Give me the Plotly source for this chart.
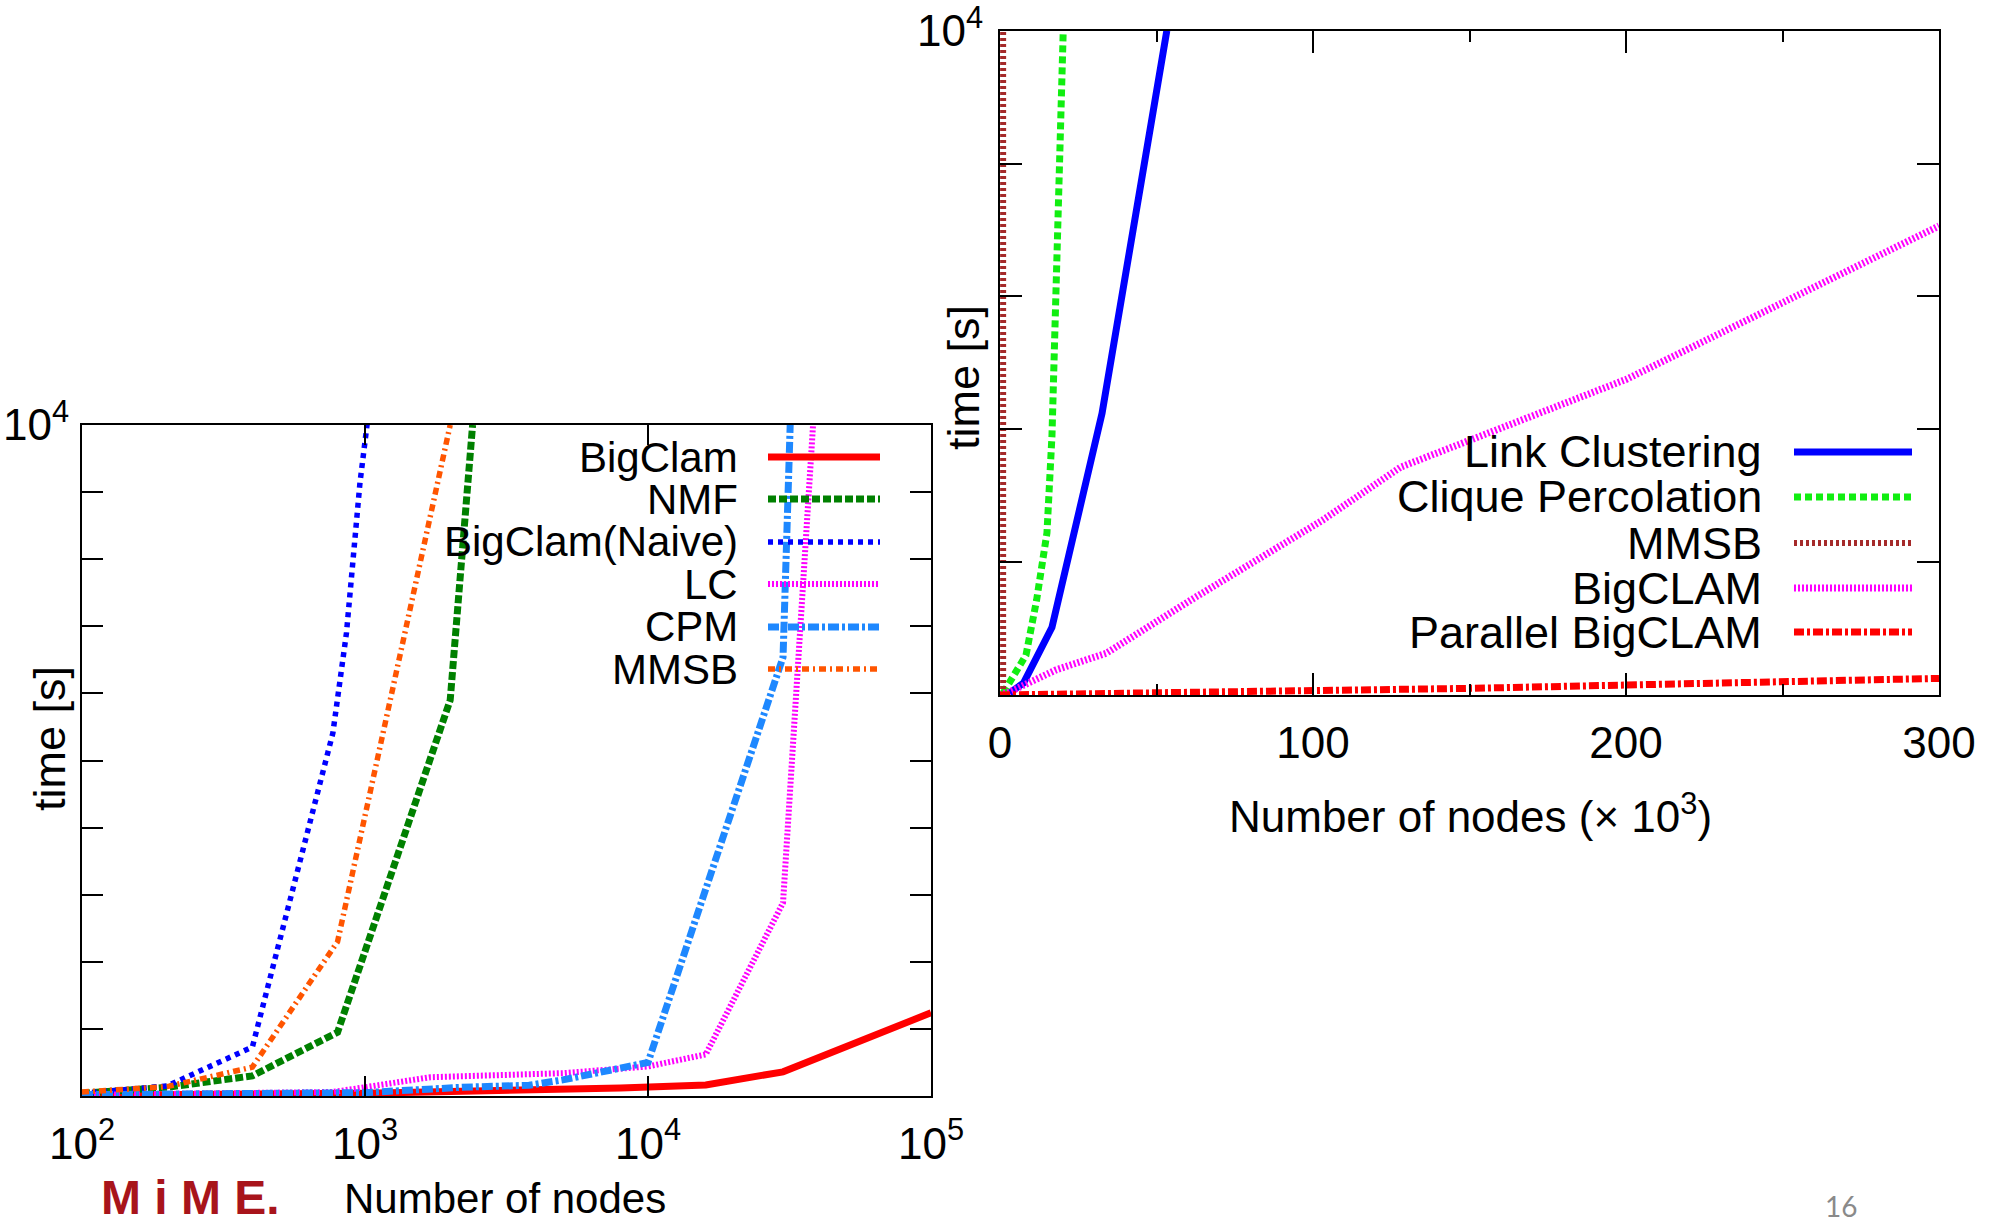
import plotly.graph_objects as go

W, H = 2007, 1223

# ---------------- Left chart data (log x, time in s) ----------------
L_bigclam_x = [100, 1000, 8000, 16000, 30000, 100000]
L_bigclam_t = [10, 40, 120, 165, 360, 1240]

L_nmf_x = [100, 200, 400, 800, 2000, 2400]
L_nmf_t = [40, 130, 300, 950, 5900, 10000]

L_naive_x = [100, 200, 400, 770, 860, 960, 1020]
L_naive_t = [40, 150, 730, 5410, 6900, 9140, 10050]

L_lc_x = [100, 770, 1000, 1700, 5000, 10000, 16000, 30000, 38300]
L_lc_t = [15, 60, 130, 280, 340, 440, 620, 2880, 10000]

L_cpm_x = [100, 1000, 2200, 3800, 5000, 10000, 30000, 31800]
L_cpm_t = [20, 50, 130, 160, 240, 500, 6540, 10000]

L_mmsb_x = [100, 200, 400, 800, 2000]
L_mmsb_t = [60, 140, 430, 2300, 10000]

L_xticks = [100, 1000, 10000, 100000]
L_xticktext = ["10<sup>2</sup>", "10<sup>3</sup>", "10<sup>4</sup>", "10<sup>5</sup>"]
L_yticks = list(range(0, 10001, 1000))
L_yticktext = [""] * 10 + ["10<sup>4</sup>"]

L_names = ["BigClam", "NMF", "BigClam(Naive)", "LC", "CPM", "MMSB"]

# ---------------- Right chart data (x in thousands of nodes) ----------------
R_lc_x = [3, 7.5, 16.6, 32.6, 53.3]
R_lc_t = [30, 180, 1020, 4240, 10000]

R_cp_x = [1, 8.3, 11.7, 15, 16.6, 20.2]
R_cp_t = [30, 600, 1430, 2440, 3900, 10000]

R_mmsb_x = [1, 1]
R_mmsb_t = [0, 10000]

R_bigclam_x = [0, 3, 18, 34, 61, 82, 103, 128, 200, 300]
R_bigclam_t = [0, 45, 380, 630, 1430, 2030, 2630, 3430, 4750, 7060]

R_par_x = [0, 50, 100, 150, 200, 300]
R_par_t = [0, 30, 70, 100, 150, 250]

R_xticks = [0, 100, 200, 300]
R_xminor = [50, 150, 250]
R_yticks = list(range(0, 10001, 2000))
R_yticktext = [""] * 5 + ["10<sup>4</sup>"]

R_names = ["Link Clustering", "Clique Percolation", "MMSB", "BigCLAM", "Parallel BigCLAM"]

# ---------------- styles ----------------
FONT = "Liberation Sans, Arial, Helvetica, sans-serif"
L_styles = [
    dict(color="#FF0000", width=7, dash="solid"),
    dict(color="#008000", width=7, dash="8px,3px"),
    dict(color="#0000FF", width=5.5, dash="5px,5px"),
    dict(color="#FF00FF", width=6, dash="2px,2px"),
    dict(color="#1E88FF", width=7, dash="11px,3px,3px,3px"),
    dict(color="#FF5500", width=5.5, dash="7px,4px,2px,4px"),
]
R_styles = [
    dict(color="#0000FF", width=7, dash="solid"),
    dict(color="#11EE11", width=7, dash="7px,4px"),
    dict(color="#A52A2A", width=6, dash="3px,3px"),
    dict(color="#FF00FF", width=7, dash="2px,2px"),
    dict(color="#FF0000", width=7, dash="10px,3px,3px,3px"),
]

fig = go.Figure()

L_series = [(L_bigclam_x, L_bigclam_t), (L_nmf_x, L_nmf_t), (L_naive_x, L_naive_t),
            (L_lc_x, L_lc_t), (L_cpm_x, L_cpm_t), (L_mmsb_x, L_mmsb_t)]
for (x, y), st, nm in zip(L_series, L_styles, L_names):
    fig.add_trace(go.Scatter(x=x, y=y, mode="lines", name=nm, line=st,
                             xaxis="x", yaxis="y", showlegend=False, hoverinfo="skip"))

R_series = [(R_lc_x, R_lc_t), (R_cp_x, R_cp_t), (R_mmsb_x, R_mmsb_t),
            (R_bigclam_x, R_bigclam_t), (R_par_x, R_par_t)]
for (x, y), st, nm in zip(R_series, R_styles, R_names):
    fig.add_trace(go.Scatter(x=x, y=y, mode="lines", name=nm, line=st,
                             xaxis="x2", yaxis="y2", showlegend=False, hoverinfo="skip"))

def px(x):
    return x / W

def py(y):
    return 1 - y / H

axis_common = dict(showline=True, linecolor="black", linewidth=2, mirror="ticks",
                   ticks="inside", tickcolor="black", tickwidth=2, showgrid=False,
                   zeroline=False, automargin=False, ticklabeloverflow="allow",
                   tickfont=dict(family=FONT, size=44, color="black"))

fig.update_layout(
    width=W, height=H, margin=dict(l=0, r=0, t=0, b=0, pad=0),
    paper_bgcolor="white", plot_bgcolor="white",
    xaxis=dict(domain=[px(82), px(931)], type="log", range=[2, 5], anchor="y",
               tickmode="array", tickvals=L_xticks, ticktext=L_xticktext, ticklen=20,
               ticklabelstandoff=8, **axis_common),
    yaxis=dict(domain=[py(1096), py(425)], range=[0, 10000], anchor="x",
               tickmode="array", tickvals=L_yticks, ticktext=L_yticktext, ticklen=21,
               ticklabelstandoff=2, **axis_common),
    xaxis2=dict(domain=[px(1000), px(1939)], range=[0, 300], anchor="y2",
                tickmode="array", tickvals=R_xticks, ticklen=22, ticklabelstandoff=8,
                minor=dict(tickmode="array", tickvals=R_xminor, ticklen=11, ticks="inside",
                           tickcolor="black", tickwidth=2),
                **axis_common),
    yaxis2=dict(domain=[py(695), py(30.7)], range=[0, 10000], anchor="x2",
                tickmode="array", tickvals=R_yticks, ticktext=R_yticktext, ticklen=22,
                ticklabelstandoff=6, **axis_common),
)

ann = []
shapes = []

def text(x, y, s, size, xanchor="center", angle=0, color="black", family=FONT):
    ann.append(dict(x=px(x), y=py(y), xref="paper", yref="paper", text=s, showarrow=False,
                    xanchor=xanchor, yanchor="middle", textangle=angle,
                    font=dict(family=family, size=size, color=color)))

# axis titles
text(49, 739, "time [s]", 45, angle=-90)
text(505, 1198, "Number of nodes", 42)
text(963, 378, "time [s]", 45, angle=-90)
text(1470, 813, "Number of nodes (× 10<sup>3</sup>)", 44)

# left legend
L_leg_y = [457, 499, 542, 584, 627, 669]
for nm, st, yy in zip(L_names, L_styles, L_leg_y):
    text(740, yy, nm, 42, xanchor="right")
    shapes.append(dict(type="line", xref="paper", yref="paper", x0=px(768), x1=px(880),
                       y0=py(yy), y1=py(yy),
                       line=dict(color=st["color"], width=st["width"], dash=st["dash"])))

# right legend
R_leg_y = [452, 497, 543, 588, 632]
for nm, st, yy in zip(R_names, R_styles, R_leg_y):
    text(1764, yy, nm, 45, xanchor="right")
    shapes.append(dict(type="line", xref="paper", yref="paper", x0=px(1794), x1=px(1912),
                       y0=py(yy), y1=py(yy),
                       line=dict(color=st["color"], width=st["width"], dash=st["dash"])))

# logo and page number
text(190, 1197, "<b>M i M E.</b>", 48, color="#A8141B")
text(1841, 1206, "16", 28, color="#8a8a8a", family="Lato, Open Sans, sans-serif")

fig.update_layout(annotations=ann, shapes=shapes)

fig.write_html("out.html")
